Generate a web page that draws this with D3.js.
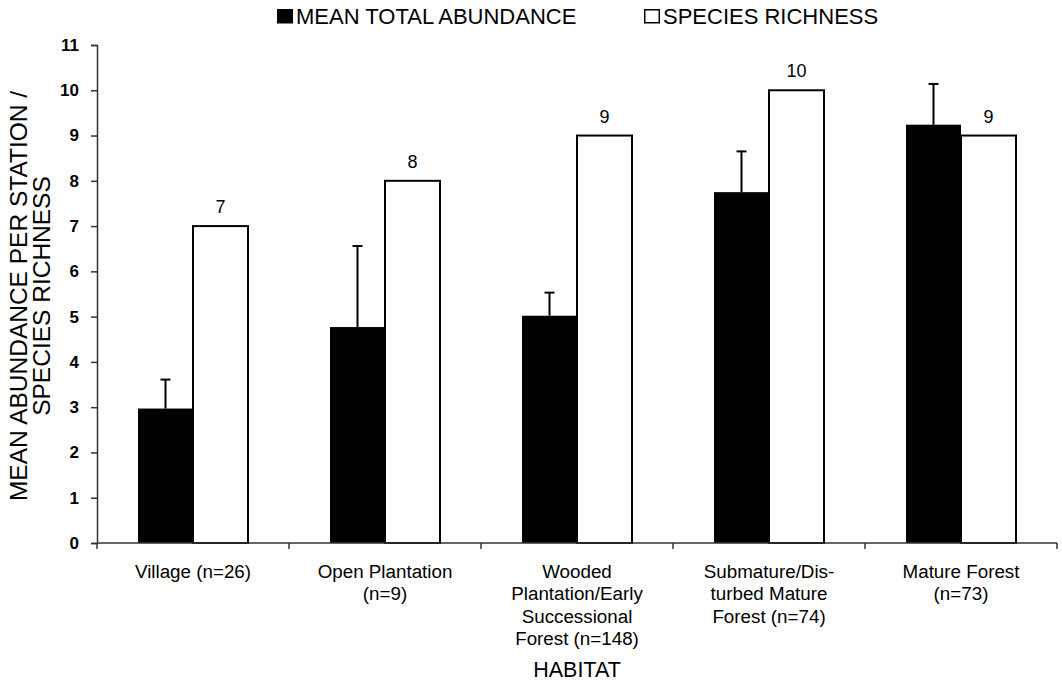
<!DOCTYPE html>
<html>
<head>
<meta charset="utf-8">
<script src="https://cdn.jsdelivr.net/npm/d3@7"></script>
<style>
  html, body { margin: 0; padding: 0; background: #fff; }
  svg { display: block; font-family: "Liberation Sans", Arial, sans-serif; }
</style>
</head>
<body>
<div id="chart"></div>
<script>
const categories = ["Village", "Open Plantation", "Wooded", "Submature", "Mature Forest"];
const tickLabels = [
    ["Village (n=26)"],
    ["Open Plantation", "(n=9)"],
    ["Wooded", "Plantation/Early", "Successional", "Forest (n=148)"],
    ["Submature/Dis-", "turbed Mature", "Forest (n=74)"],
    ["Mature Forest", "(n=73)"]
];
const abundance = [2.97, 4.77, 5.02, 7.75, 9.24];
const abundanceErr = [0.64, 1.79, 0.51, 0.9, 0.9];
const richness = [7, 8, 9, 10, 9];
const yTicks = [0, 1, 2, 3, 4, 5, 6, 7, 8, 9, 10, 11];

const width = 1062, height = 685;
const margin = { top: 45, right: 5, bottom: 142, left: 97 };
const innerW = width - margin.left - margin.right;
const innerH = height - margin.top - margin.bottom;

const svg = d3.select("#chart").append("svg")
    .attr("width", width)
    .attr("height", height);

const g = svg.append("g").attr("transform", `translate(${margin.left},${margin.top})`);

const x = d3.scaleBand().domain(categories).range([0, innerW]).paddingInner(0).paddingOuter(0);
const barW = 55;
const y = d3.scaleLinear().domain([0, 11]).range([innerH, 0]);

// bars
const groups = g.selectAll("g.grp")
    .data(categories)
    .join("g")
    .attr("class", "grp")
    .attr("transform", d => `translate(${x(d) + x.bandwidth() / 2},0)`);

groups.append("rect")
    .attr("x", -barW)
    .attr("width", barW)
    .attr("y", (d, i) => y(abundance[i]))
    .attr("height", (d, i) => y(0) - y(abundance[i]))
    .attr("fill", "#000");

groups.append("line")
    .attr("x1", -barW / 2).attr("x2", -barW / 2)
    .attr("y1", (d, i) => y(abundance[i]))
    .attr("y2", (d, i) => y(abundance[i] + abundanceErr[i]))
    .attr("stroke", "#000").attr("stroke-width", 2);
groups.append("line")
    .attr("x1", -barW / 2 - 5).attr("x2", -barW / 2 + 5)
    .attr("y1", (d, i) => y(abundance[i] + abundanceErr[i]))
    .attr("y2", (d, i) => y(abundance[i] + abundanceErr[i]))
    .attr("stroke", "#000").attr("stroke-width", 2);

groups.append("rect")
    .attr("x", 0)
    .attr("width", barW)
    .attr("y", (d, i) => y(richness[i]))
    .attr("height", (d, i) => y(0) - y(richness[i]))
    .attr("fill", "#fff")
    .attr("stroke", "#000")
    .attr("stroke-width", 2);

groups.append("text")
    .attr("x", barW / 2)
    .attr("y", (d, i) => y(richness[i]) - 13)
    .attr("text-anchor", "middle")
    .style("font-size", "18px")
    .text((d, i) => richness[i]);

// y axis
const yAxisG = g.append("g")
    .call(d3.axisLeft(y).tickValues(yTicks).tickSize(6).tickPadding(12).tickFormat(d3.format("d")));
yAxisG.select(".domain").attr("stroke", "#333").attr("stroke-width", 1.5);
yAxisG.selectAll(".tick line").attr("stroke", "#333").attr("stroke-width", 1.5);
yAxisG.selectAll(".tick text")
    .style("font-size", "17px")
    .style("font-weight", "bold")
    .style("font-family", "Liberation Sans, Arial, sans-serif")
    .attr("fill", "#000");

// x axis
const xAxisG = g.append("g").attr("transform", `translate(0,${innerH})`);
xAxisG.append("line")
    .attr("x1", 0).attr("x2", innerW)
    .attr("stroke", "#333").attr("stroke-width", 1.5);
const bounds = categories.map(d => x(d)).concat([x(categories.at(-1)) + x.bandwidth()]);
xAxisG.selectAll("line.xt")
    .data(bounds)
    .join("line")
    .attr("class", "xt")
    .attr("x1", d => d).attr("x2", d => d)
    .attr("y1", 0).attr("y2", 6)
    .attr("stroke", "#333").attr("stroke-width", 1.5);

const xLabels = xAxisG.selectAll("text.xl")
    .data(categories)
    .join("text")
    .attr("class", "xl")
    .attr("text-anchor", "middle")
    .attr("transform", d => `translate(${x(d) + x.bandwidth() / 2},35)`)
    .style("font-size", "18.8px");
xLabels.selectAll("tspan")
    .data((d, i) => tickLabels[i])
    .join("tspan")
    .attr("x", 0)
    .attr("y", (d, i) => i * 22.3)
    .text(d => d);

// axis titles
svg.append("text")
    .attr("x", margin.left + x("Wooded") + x.bandwidth() / 2)
    .attr("y", 677)
    .attr("text-anchor", "middle")
    .style("font-size", "21.5px")
    .text("HABITAT");

const yTitle = svg.append("text")
    .attr("transform", "translate(0,296) rotate(-90)")
    .attr("text-anchor", "middle")
    .style("font-size", "24.5px");
yTitle.append("tspan").attr("x", 0).attr("y", 27).text("MEAN ABUNDANCE PER STATION /");
yTitle.append("tspan").attr("x", 0).attr("y", 50).text("SPECIES RICHNESS");

// legend
const legend = svg.append("g");
const legendItems = [
    { label: "MEAN TOTAL ABUNDANCE", fill: "#000", x: 277 },
    { label: "SPECIES RICHNESS", fill: "#fff", x: 644 }
];
legend.selectAll("rect")
    .data(legendItems)
    .join("rect")
    .attr("x", d => d.x + 0.75)
    .attr("y", 9.75)
    .attr("width", 14.5)
    .attr("height", 13)
    .attr("fill", d => d.fill)
    .attr("stroke", "#000")
    .attr("stroke-width", 1.5);
legend.selectAll("text")
    .data(legendItems)
    .join("text")
    .attr("x", d => d.x + 19)
    .attr("y", 23.5)
    .style("font-size", "22px")
    .text(d => d.label);
</script>
</body>
</html>
